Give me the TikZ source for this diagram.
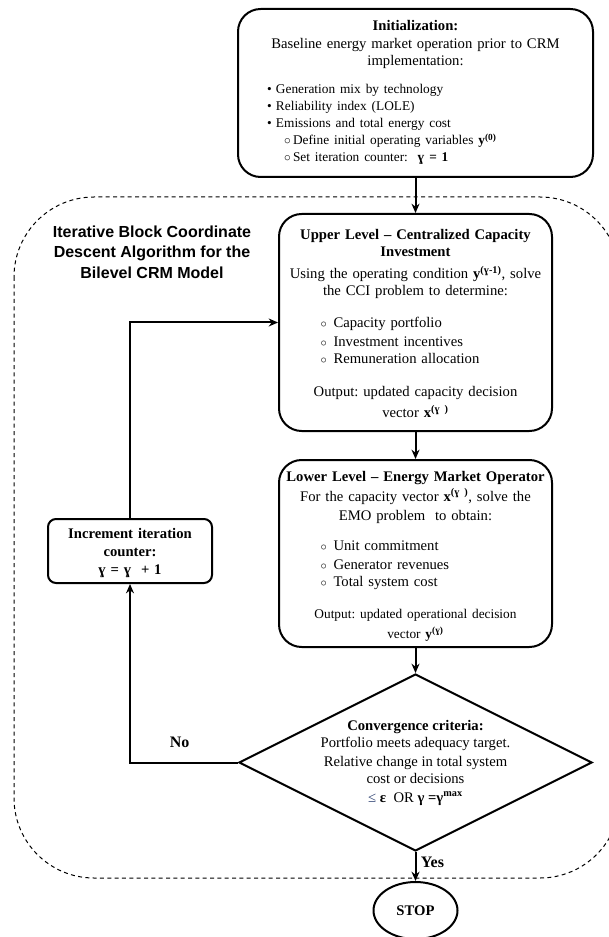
\documentclass[tikz,border=0pt]{standalone}
\usepackage{fontspec}
\setmainfont{Liberation Serif}
\setsansfont{Liberation Sans}
\usepackage{tikz}
\usetikzlibrary{shapes.geometric,arrows.meta,positioning}
\newlength\pxu
\setlength\pxu{0.75pt}
\definecolor{leqblue}{RGB}{40,60,110}
\newcommand\bul{\makebox[9\pxu][l]{\textbullet}}
\newcommand\subbul{\makebox[13\pxu][l]{\fontsize{9}{9}\selectfont$\circ$}}
\frenchspacing

\begin{document}
\begin{tikzpicture}[x=\pxu, y=-\pxu, node distance=30\pxu, >={Stealth[length=7pt,width=6pt]},
  box/.style={draw, line width=1.5pt, rounded corners=17pt, inner sep=0pt, align=center,
    font=\fontsize{11}{12.75}\selectfont},
  incbox/.style={box, rounded corners=6pt, font=\fontsize{11}{13.5}\selectfont\bfseries},
  decision/.style={draw, diamond, line width=1.5pt, inner sep=0pt, minimum width=353\pxu, minimum height=177\pxu},
  stopnode/.style={draw, ellipse, line width=1.5pt, minimum width=84\pxu, minimum height=57\pxu,
    font=\fontsize{11}{12}\selectfont\bfseries},
  region/.style={draw, dashed, dash pattern=on 3pt off 2.5pt, line width=0.75pt, rounded corners=60pt},
  flow/.style={->, line width=1.5pt}]
\useasboundingbox (0,0) rectangle (608,937);

% iteration region
\draw [region] (14,197) rectangle (620,878);
\node [font=\fontsize{12}{15.4}\selectfont\sffamily\bfseries, align=center] (algtitle) at (152,252)
  {Iterative Block Coordinate\\Descent Algorithm for the\\Bilevel CRM Model};

\node [box, text width=355\pxu, anchor=north] (init) at (415.5,8) {\rule{0pt}{22\pxu}\textbf{Initialization:}\\[1\pxu]
  Baseline energy market operation prior to CRM\\
  implementation:\\[11\pxu]
  {\fontsize{10}{12.75}\selectfont
  \makebox[297\pxu][l]{\bul Generation mix by technology}\\
  \makebox[297\pxu][l]{\bul Reliability index (LOLE)}\\
  \makebox[297\pxu][l]{\bul Emissions and total energy cost}\\
  \makebox[297\pxu][l]{\hspace{17\pxu}\makebox[9\pxu][l]{$\circ$}Define initial operating variables \textbf{y}\textsuperscript{\textbf{(0)}}}\\
  \makebox[297\pxu][l]{\hspace{17\pxu}\makebox[9\pxu][l]{$\circ$}Set iteration counter:\ \ \textbf{ɣ = 1}}\rule[-15\pxu]{0pt}{1\pxu}}};

\node [box, text width=273\pxu, below=35\pxu of init] (upper) {\rule{0pt}{26\pxu}\textbf{Upper Level – Centralized Capacity}\\
  \textbf{Investment}\\[5\pxu]
  Using the operating condition \textbf{y}\textsuperscript{\textbf{(ɣ-1)}}, solve\\
  the CCI problem to determine:\\[15\pxu]
  \makebox[190\pxu][l]{\subbul Capacity portfolio}\\[2\pxu]
  \makebox[190\pxu][l]{\subbul Investment incentives}\\
  \makebox[190\pxu][l]{\subbul Remuneration allocation}\\[16\pxu]
  Output: updated capacity decision\\[4\pxu]
  vector \textbf{x}\textsuperscript{\textbf{(ɣ )}}\rule[-13\pxu]{0pt}{1\pxu}};

\node [box, text width=273\pxu, below=27\pxu of upper] (lower) {\rule{0pt}{21\pxu}\textbf{Lower Level – Energy Market Operator}\\[3\pxu]
  For the capacity vector \textbf{x}\textsuperscript{\textbf{(ɣ )}}, solve the\\[2\pxu]
  EMO problem\ \ to obtain:\\[13\pxu]
  \makebox[190\pxu][l]{\subbul Unit commitment}\\[2\pxu]
  \makebox[190\pxu][l]{\subbul Generator revenues}\\
  \makebox[190\pxu][l]{\subbul Total system cost}\\[15\pxu]
  {\fontsize{10}{12}\selectfont Output: updated operational decision}\\[3\pxu]
  {\fontsize{10}{12}\selectfont vector \textbf{y}\textsuperscript{\textbf{(ɣ)}}}\rule[-9\pxu]{0pt}{1\pxu}};

\node [decision, below=25\pxu of lower,
  label={[align=center, font=\fontsize{11}{12.75}\selectfont]center:{\textbf{Convergence criteria:}\\
  Portfolio meets adequacy target.\\[2\pxu]
  Relative change in total system\\
  cost or decisions\\[2\pxu]
  {\color{leqblue}≤} \textbf{ε}\ \ OR \textbf{γ =γ}\textsuperscript{\textbf{max}}}}] (conv) {};

\node [stopnode, below=29\pxu of conv] (stop) {STOP};

\node [incbox, text width=164\pxu] (inc) at (130,551) {\rule{0pt}{19\pxu}Increment iteration\\
  counter:\\
  ɣ = ɣ\ \ + 1\rule[-9\pxu]{0pt}{1\pxu}};

\path [flow]
(init) edge (upper)
(upper) edge (lower)
(lower) edge (conv)
(conv) edge node [right, pos=0.35, font=\fontsize{12}{12}\selectfont\bfseries] {Yes} (stop);
\draw [flow] (conv.west) -| node [above=9\pxu, pos=0.27, font=\fontsize{12}{12}\selectfont\bfseries] {No} (inc.south);
\draw [flow] (inc.north) |- (upper.west);
\end{tikzpicture}
\end{document}
